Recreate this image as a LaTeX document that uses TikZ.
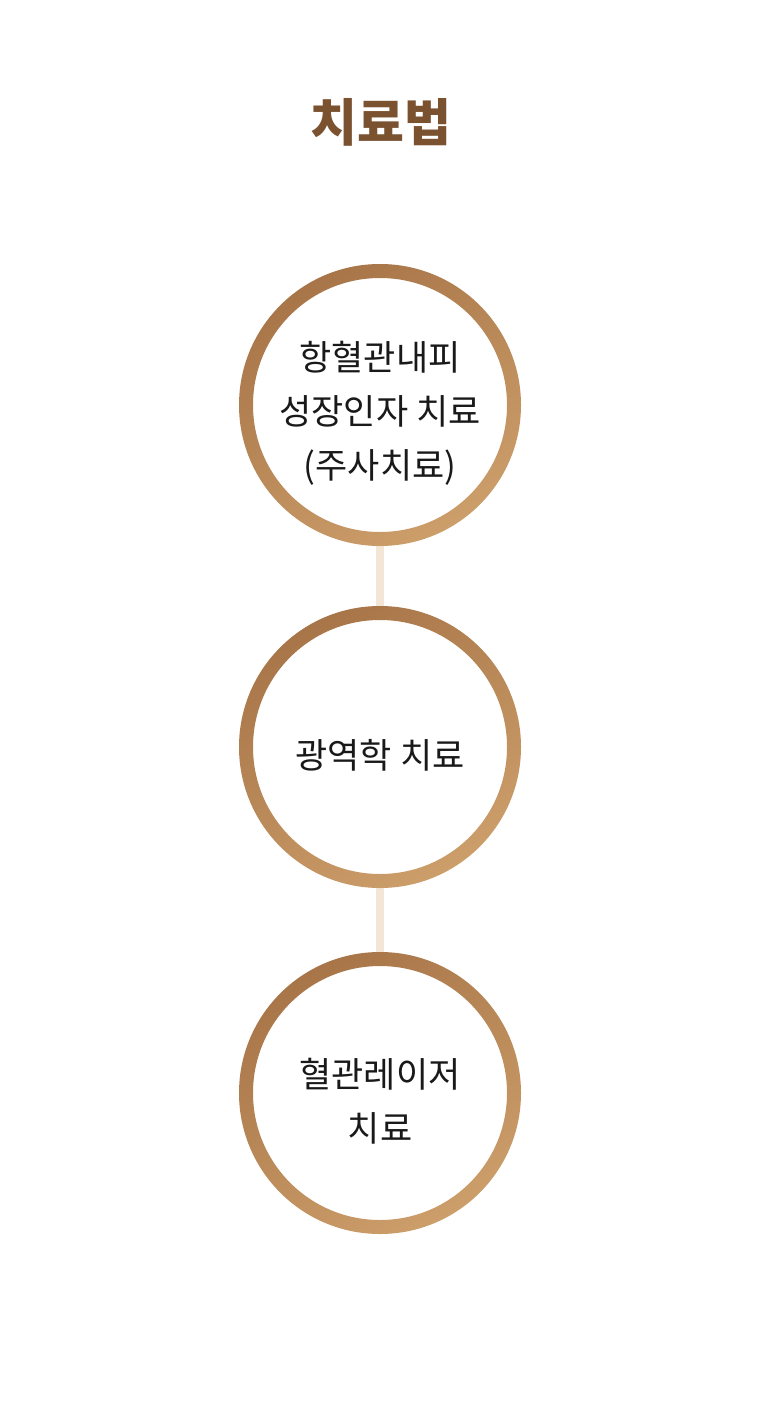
\documentclass[tikz,border=0pt]{standalone}
\usepackage{fontspec}
\setmainfont{Noto Sans CJK KR}
\begin{document}
\begin{tikzpicture}[x=1pt,y=-1pt,
  lbl/.style={align=center,font=\fontsize{35}{54}\selectfont,text=black!90,yshift=-8pt},
  link/.style={draw=linkc,line width=8pt},
  ring/.style={even odd rule,shading=axis,top color=ringa,bottom color=ringb,shading angle=30}]
\definecolor{ringa}{HTML}{A87548}
\definecolor{ringb}{HTML}{CC9E6A}
\definecolor{linkc}{HTML}{F3E6D6}
\definecolor{titlec}{HTML}{7B5230}
\useasboundingbox[fill=white] (0,0) rectangle (760,1420);
\node[font=\bfseries\fontsize{51}{55}\selectfont,text=titlec] (title) at (381,122) {치료법};
\coordinate (c1) at (380,405);
\coordinate (c2) at (380,747);
\coordinate (c3) at (380,1093);
\draw[link] (380,540) -- (380,612);
\draw[link] (380,882) -- (380,958);
\foreach \c in {c1,c2,c3}{
  \shade[ring] (\c) circle (141) (\c) circle (127);
}
\node[lbl] (t1) at (c1) {항혈관내피\\성장인자 치료\\(주사치료)};
\node[lbl] (t2) at (c2) {광역학 치료};
\node[lbl] (t3) at (c3) {혈관레이저\\치료};
\end{tikzpicture}
\end{document}
